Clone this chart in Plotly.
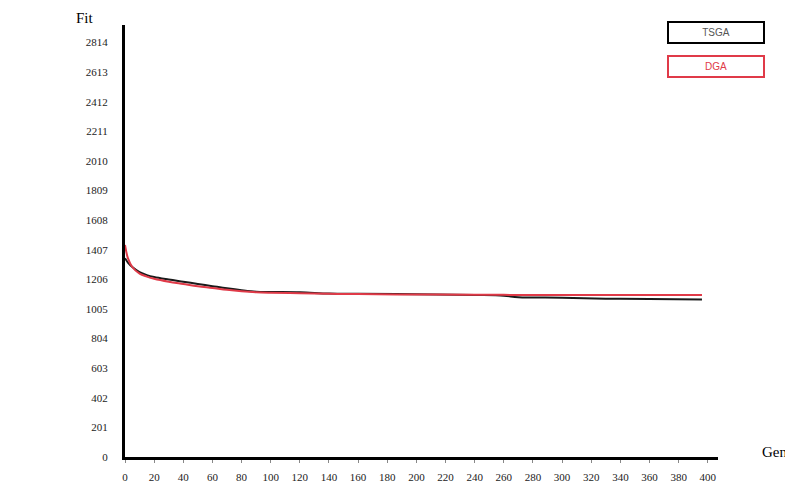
import plotly.graph_objects as go

gen = [0, 2, 5, 10, 15, 20, 30, 40, 50, 60, 70, 80, 90, 100, 120, 140, 160, 200, 240, 260, 270, 300, 330, 360, 396]
tsga = [1350, 1320, 1290, 1255, 1235, 1222, 1205, 1190, 1175, 1160, 1145, 1132, 1122, 1120, 1118, 1110, 1108, 1105, 1100, 1095, 1085, 1082, 1075, 1072, 1070]
dga = [1440, 1350, 1290, 1245, 1225, 1210, 1190, 1175, 1160, 1148, 1135, 1125, 1118, 1115, 1112, 1108, 1106, 1103, 1102, 1101, 1100, 1100, 1100, 1100, 1100]

y_ticks = [0, 201, 402, 603, 804, 1005, 1206, 1407, 1608, 1809, 2010, 2211, 2412, 2613, 2814]
x_ticks = list(range(0, 401, 20))

fig = go.Figure()
fig.add_trace(go.Scatter(x=gen, y=tsga, mode="lines", name="TSGA",
                         line=dict(color="#1a1a1a", width=2, shape="spline")))
fig.add_trace(go.Scatter(x=gen, y=dga, mode="lines", name="DGA",
                         line=dict(color="#e03a48", width=2, shape="spline")))

tick_font = dict(family="Liberation Serif", size=11, color="#222222")
fig.update_layout(
    width=785, height=478,
    margin=dict(l=117, r=75, t=17, b=29, autoexpand=False),
    paper_bgcolor="white", plot_bgcolor="white",
    showlegend=False,
    xaxis=dict(range=[0, 407], tickvals=x_ticks, showgrid=False, zeroline=False,
               showline=True, linewidth=3, linecolor="black",
               ticks="outside", ticklen=3, tickcolor="#888888",
               tickfont=tick_font, ticklabelstandoff=5, automargin=False),
    yaxis=dict(range=[0, 2933], tickvals=y_ticks, ticktext=[str(v) for v in y_ticks],
               showgrid=False, zeroline=False,
               showline=True, linewidth=3, linecolor="black",
               ticks="", tickfont=tick_font, ticklabelstandoff=12, automargin=False),
)

fig.add_annotation(text="TSGA", xref="paper", yref="paper", x=0.9966, y=0.9815,
                   xanchor="center", yanchor="middle",
                   showarrow=False, font=dict(family="Liberation Sans", size=10, color="#555555"),
                   bordercolor="black", borderwidth=2, width=92, height=17, bgcolor="white")
fig.add_annotation(text="DGA", xref="paper", yref="paper", x=0.9966, y=0.905,
                   xanchor="center", yanchor="middle",
                   showarrow=False, font=dict(family="Liberation Sans", size=10, color="#e03a48"),
                   bordercolor="#e03a48", borderwidth=2, width=92, height=17, bgcolor="white")
fig.add_annotation(text="Fit", xref="paper", yref="paper", x=-0.0675, y=1.016,
                   xanchor="center", yanchor="middle",
                   showarrow=False, font=dict(family="Liberation Serif", size=15, color="black"))
fig.add_annotation(text="Gen", xref="paper", yref="paper", x=1.0708, y=0.0116,
                   xanchor="left", yanchor="middle", showarrow=False,
                   font=dict(family="Liberation Serif", size=15, color="black"))

fig.write_html("out.html")
